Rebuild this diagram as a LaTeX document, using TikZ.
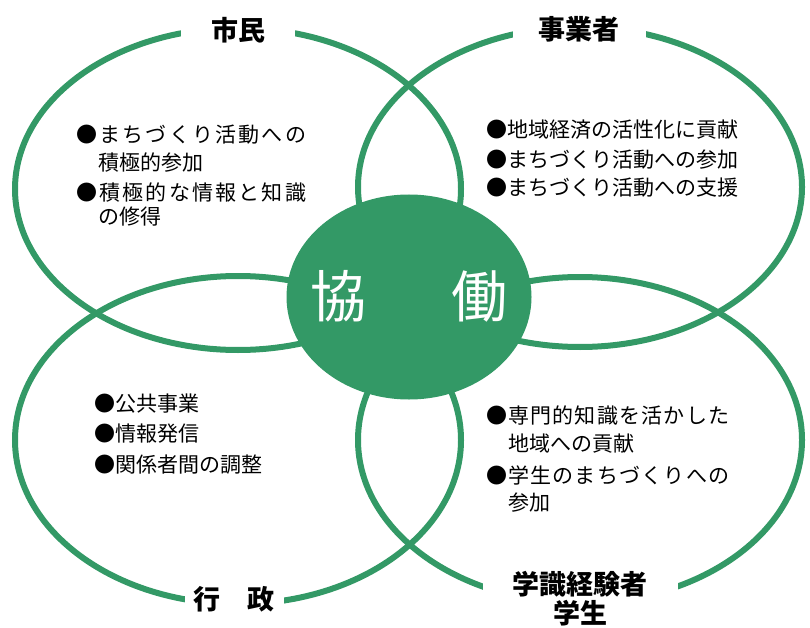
\documentclass[tikz,border=0pt]{standalone}
\usepackage{fontspec}
\usetikzlibrary{shapes.geometric}
\setmainfont{Noto Sans CJK JP}
\definecolor{kgreen}{RGB}{51,153,102}
\begin{document}
\begin{tikzpicture}[x=1pt,y=-1pt,
  ring/.style={draw=kgreen,line width=6pt},
  head/.style={fill=white,inner ysep=2pt,font=\fontsize{27}{29}\selectfont\bfseries,align=center},
  body/.style={anchor=base west,inner sep=0pt,font=\fontsize{21}{24}\selectfont}]
\useasboundingbox (0,0) rectangle (810,628);
% four circles
\draw[ring] (238,189) ellipse [x radius=223,y radius=161];
\draw[ring] (580,187) ellipse [x radius=222,y radius=160];
\draw[ring] (238,440) ellipse [x radius=223,y radius=164];
\draw[ring] (580,440) ellipse [x radius=222,y radius=163];
% headings
\node[head,inner xsep=30pt] (shimin) at (238,30) {市民};
\node[head,inner xsep=26pt] (jigyo) at (579,29) {事業者};
\node[head,inner xsep=9pt] (gyosei) at (234,599) {行　政};
\node[head,inner xsep=30pt] (gakusei) at (580,599) {学識経験者\\学生};
% centre
\node[ellipse,fill=kgreen,minimum width=245pt,minimum height=205pt,inner sep=0pt] (kyodo) at (409,297) {};
\node[text=white,font=\fontsize{56}{60}\selectfont,inner sep=0pt] (kyodotxt) at (409,296) {協\hspace{86pt}働};
% top left
\node[body] (a1) at (76,143) {\makebox[230pt][s]{●\hfill ま\hfill ち\hfill づ\hfill く\hfill り\hfill 活\hfill 動\hfill へ\hfill の}};
\node[body] (a2) at (98,171) {積極的参加};
\node[body] (a3) at (76,201) {\makebox[230pt][s]{●\hfill 積\hfill 極\hfill 的\hfill な\hfill 情\hfill 報\hfill と\hfill 知\hfill 識}};
\node[body] (a4) at (98,225) {の修得};
% top right
\node[body] (b1) at (486,138) {●地域経済の活性化に貢献};
\node[body] (b2) at (486,168) {●まちづくり活動への参加};
\node[body] (b3) at (486,196) {●まちづくり活動への支援};
% bottom left
\node[body] (c1) at (94,411) {●公共事業};
\node[body] (c2) at (94,441) {●情報発信};
\node[body] (c3) at (94,472) {●関係者間の調整};
% bottom right
\node[body] (d1) at (486,423) {\makebox[243pt][s]{●\hfill 専\hfill 門\hfill 的\hfill 知\hfill 識\hfill を\hfill 活\hfill か\hfill し\hfill た}};
\node[body] (d2) at (508,451) {地域への貢献};
\node[body] (d3) at (486,483) {\makebox[243pt][s]{●\hfill 学\hfill 生\hfill の\hfill ま\hfill ち\hfill づ\hfill く\hfill り\hfill へ\hfill の}};
\node[body] (d4) at (508,510) {参加};
\end{tikzpicture}
\end{document}
